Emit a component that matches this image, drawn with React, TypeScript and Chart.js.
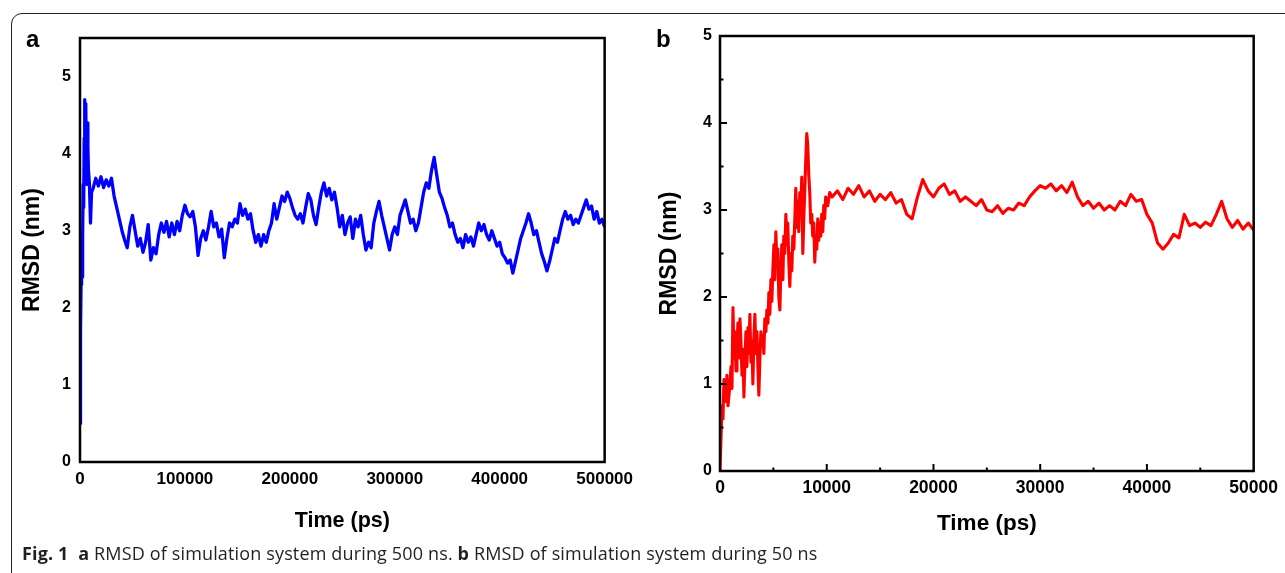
import React, { useEffect, useRef } from "react";
import { Chart, registerables } from "chart.js";
Chart.register(...registerables);

// ---------- Panel a: RMSD during 500 ns ----------
const aTime = [
  0, 500, 1000, 1500, 2000, 2500, 3000, 3500, 4000, 4500, 5000, 5500, 6000, 6500, 7000, 7500, 8000, 9000, 10000, 11000,
  12500, 15000, 17500, 20000, 22500, 25000, 27500, 30000, 32500, 35000,
  37500, 40000, 42500, 45000, 47500, 50000, 52500, 55000, 57500, 60000,
  62500, 65000, 67500, 70000, 72500, 75000, 77500, 80000, 82500, 85000,
  87500, 90000, 92500, 95000, 97500, 100000, 102500, 105000, 107500, 110000,
  112500, 115000, 117500, 120000, 122500, 125000, 127500, 130000, 132500, 135000,
  137500, 140000, 142500, 145000, 147500, 150000, 152500, 155000, 157500, 160000,
  162500, 165000, 167500, 170000, 172500, 175000, 177500, 180000, 182500, 185000,
  187500, 190000, 192500, 195000, 197500, 200000, 202500, 205000, 207500, 210000,
  212500, 215000, 217500, 220000, 222500, 225000, 227500, 230000, 232500, 235000,
  237500, 240000, 242500, 245000, 247500, 250000, 252500, 255000, 257500, 260000,
  262500, 265000, 267500, 270000, 272500, 275000, 277500, 280000, 282500, 285000,
  287500, 290000, 292500, 295000, 297500, 300000, 302500, 305000, 307500, 310000,
  312500, 315000, 317500, 320000, 322500, 325000, 327500, 330000, 332500, 335000,
  337500, 340000, 342500, 345000, 347500, 350000, 352500, 355000, 357500, 360000,
  362500, 365000, 367500, 370000, 372500, 375000, 377500, 380000, 382500, 385000,
  387500, 390000, 392500, 395000, 397500, 400000, 402500, 405000, 407500, 410000,
  412500, 415000, 417500, 420000, 422500, 425000, 427500, 430000, 432500, 435000,
  437500, 440000, 442500, 445000, 447500, 450000, 452500, 455000, 457500, 460000,
  462500, 465000, 467500, 470000, 472500, 475000, 477500, 480000, 482500, 485000,
  487500, 490000, 492500, 495000, 497500, 500000
];
const aRmsd = [
  0.5, 1.7, 2.3, 2.8, 2.4, 2.9, 3.6, 3.3, 4.2, 4.7, 4.3, 4.65, 3.9, 3.6, 4.4, 4.1, 3.8, 3.6, 3.1, 3.5,
  3.55, 3.68, 3.58, 3.7, 3.56, 3.66, 3.58, 3.68, 3.45, 3.3,
  3.15, 3.0, 2.88, 2.78, 3.05, 3.2, 3.0, 2.8, 2.9, 2.72,
  2.85, 3.08, 2.62, 2.78, 2.7, 2.95, 3.1, 2.98, 3.12, 2.92,
  3.1, 2.95, 3.12, 3.0, 3.2, 3.33, 3.22, 3.18, 3.25, 3.05,
  2.68, 2.9, 3.0, 2.88, 3.05, 3.25, 3.05, 3.1, 2.92, 3.02,
  2.65, 2.9, 3.1, 3.05, 3.15, 3.1, 3.35, 3.2, 3.28, 3.15,
  3.22, 3.0, 2.85, 2.95, 2.8, 2.95, 2.85, 3.0, 3.1, 3.35,
  3.15, 3.3, 3.45, 3.38, 3.5, 3.42, 3.3, 3.2, 3.15, 3.22,
  3.1, 3.3, 3.48, 3.4, 3.2, 3.08, 3.3, 3.5, 3.62, 3.45,
  3.55, 3.4, 3.5, 3.3, 3.05, 3.2, 2.95, 3.1, 3.18, 2.9,
  3.15, 3.05, 3.2, 2.95, 2.75, 2.85, 2.78, 3.1, 3.25, 3.38,
  3.2, 3.05, 2.9, 2.75, 2.95, 3.05, 2.95, 3.2, 3.3, 3.4,
  3.25, 3.1, 3.15, 3.0, 3.1, 3.3, 3.5, 3.62, 3.55, 3.78,
  3.95, 3.72, 3.5, 3.42, 3.3, 3.2, 3.05, 3.1, 2.95, 2.85,
  2.9, 2.78, 2.95, 2.85, 2.92, 2.8, 2.95, 3.1, 3.0, 3.08,
  2.95, 2.88, 3.0, 2.9, 2.8, 2.85, 2.7, 2.65, 2.58, 2.62,
  2.45, 2.6, 2.75, 2.9, 3.0, 3.1, 3.22, 3.1, 2.95, 3.0,
  2.85, 2.7, 2.6, 2.48, 2.6, 2.75, 2.9, 2.85, 3.0, 3.15,
  3.25, 3.15, 3.2, 3.08, 3.15, 3.1, 3.2, 3.3, 3.4, 3.28,
  3.32, 3.15, 3.25, 3.1, 3.15, 3.05
];

// ---------- Panel b: RMSD during 50 ns ----------
const bTime = [
  0, 100, 190, 280, 370, 560, 650, 750, 935, 1030, 1120, 1215, 1310, 1400, 1500, 1590, 1680, 1780, 1870, 1960,
  2060, 2150, 2240, 2340, 2430, 2520, 2620, 2710, 2800, 2900, 2990, 3080, 3180, 3270, 3360, 3460, 3550, 3640, 3740, 3830,
  3920, 4020, 4110, 4200, 4300, 4390, 4490, 4580, 4670, 4770, 4860, 4950, 5050, 5140, 5230, 5330, 5420, 5510, 5610, 5700,
  5790, 5890, 5980, 6070, 6170, 6260, 6350, 6450, 6540, 6640, 6730, 6820, 6920, 7010, 7100, 7200, 7290, 7380, 7480, 7570,
  7660, 7760, 7850, 7940, 8040, 8130, 8220, 8320, 8410, 8500, 8600, 8690, 8790, 8880, 8970, 9070, 9160, 9250, 9350, 9440,
  9530, 9630, 9720, 9810, 9900, 10090, 10280,
  10500, 11000, 11500, 12000, 12500, 13000, 13500, 14000, 14500, 15000,
  15500, 16000, 16500, 17000, 17500, 18000, 18500, 19000, 19500, 20000,
  20500, 21000, 21500, 22000, 22500, 23000, 23500, 24000, 24500, 25000,
  25500, 26000, 26500, 27000, 27500, 28000, 28500, 29000, 29500, 30000,
  30500, 31000, 31500, 32000, 32500, 33000, 33500, 34000, 34500, 35000,
  35500, 36000, 36500, 37000, 37500, 38000, 38500, 39000, 39500, 40000,
  40500, 41000, 41500, 42000, 42500, 43000, 43500, 44000, 44500, 45000,
  45500, 46000, 46500, 47000, 47500, 48000, 48500, 49000, 49500, 50000
];
const bRmsd = [
  0.0, 0.4, 0.75, 0.6, 1.05, 0.8, 1.1, 0.75, 1.0, 1.2, 0.95, 1.88, 1.3, 1.6, 1.15, 1.45, 1.7, 1.3, 1.75, 1.5,
  1.1, 1.4, 0.85, 1.3, 1.6, 1.2, 1.65, 1.35, 1.8, 1.25, 1.5, 1.0, 1.55, 1.8, 1.35, 1.6, 1.2, 0.87, 1.3, 1.6,
  1.45, 1.55, 1.35, 1.75, 1.6, 1.85, 1.7, 2.05, 1.8, 2.2, 1.95, 2.3, 2.6, 2.2, 2.75, 2.4, 2.55, 2.0, 1.85, 2.3,
  2.6, 2.2, 2.7, 2.5, 2.95, 2.6, 2.85, 2.4, 2.12, 2.5, 2.3, 2.7, 2.55, 2.9, 3.25, 2.8, 3.1, 2.75, 3.2, 3.0,
  3.38, 2.5, 2.9, 3.2, 3.6, 3.88, 3.75, 3.4, 3.2, 2.85, 2.95, 2.7, 2.85, 2.4, 2.7, 2.55, 2.9, 2.65, 2.85, 2.7,
  2.95, 2.75, 3.05, 2.9, 3.15, 3.05, 3.2,
  3.15, 3.22, 3.12, 3.25, 3.18, 3.28, 3.15, 3.22, 3.1, 3.18,
  3.12, 3.2, 3.08, 3.12, 2.95, 2.9, 3.15, 3.35, 3.22, 3.15,
  3.25, 3.3, 3.18, 3.22, 3.1, 3.15, 3.1, 3.05, 3.12, 3.0,
  2.98, 3.05, 2.96, 3.02, 3.0, 3.08, 3.05, 3.15, 3.22, 3.28,
  3.25, 3.3, 3.22, 3.28, 3.2, 3.32, 3.15, 3.05, 3.1, 3.02,
  3.08, 3.0, 3.05, 3.0, 3.1, 3.05, 3.18, 3.1, 3.12, 2.95,
  2.85, 2.62, 2.55, 2.62, 2.72, 2.68, 2.95, 2.82, 2.85, 2.8,
  2.86, 2.82, 2.95, 3.1, 2.9, 2.8, 2.88, 2.78, 2.85, 2.77
];

const AXIS_FONT = "'Liberation Sans', Arial, sans-serif";

const framePlugin = {
  id: "frame",
  afterDatasetsDraw(chart: any, _args: any, opts: any) {
    const { ctx, chartArea: a } = chart;
    ctx.save();
    ctx.strokeStyle = "#000";
    ctx.lineWidth = opts.lineWidth || 2.5;
    ctx.strokeRect(a.left, a.top, a.right - a.left, a.bottom - a.top);
    if (opts.inwardTicks) {
      ctx.lineWidth = 2;
      const xs = chart.scales.x;
      xs.ticks.forEach((t: any) => {
        const px = xs.getPixelForValue(t.value);
        if (px <= a.left + 1 || px >= a.right - 1) return;
        const len = t.value % opts.xMajor === 0 ? 7 : 3.5;
        ctx.beginPath();
        ctx.moveTo(px, a.bottom);
        ctx.lineTo(px, a.bottom - len);
        ctx.stroke();
      });
      const ys = chart.scales.y;
      ys.ticks.forEach((t: any) => {
        const py = ys.getPixelForValue(t.value);
        if (py <= a.top + 1 || py >= a.bottom - 1) return;
        const len = Number.isInteger(t.value) ? 7 : 3.5;
        ctx.beginPath();
        ctx.moveTo(a.left, py);
        ctx.lineTo(a.left + len, py);
        ctx.stroke();
      });
    }
    ctx.restore();
  },
};

function makeConfig(opts: {
  times: number[];
  values: number[];
  color: string;
  lineWidth: number;
  xMax: number;
  xStep: number;
  xMajor: number;
  yMax: number;
  yStep: number;
  padRight: number;
  padTop: number;
  xHeight: number;
  xTitleBottom: number;
  yTitleTop: number;
  yTickPad: number;
  yTickSize: number;
  xTickSize: number;
  xTitleSize: number;
  yTitleSize: number;
  inwardTicks: boolean;
}) {
  const data = opts.times.map((t, i) => ({ x: t, y: opts.values[i] }));
  return {
    type: "line" as const,
    data: {
      datasets: [
        {
          data,
          borderColor: opts.color,
          borderWidth: opts.lineWidth,
          pointRadius: 0,
          tension: 0,
          fill: false,
          borderJoinStyle: "round" as const,
        },
      ],
    },
    options: {
      animation: false as const,
      responsive: false,
      maintainAspectRatio: false,
      events: [],
      layout: { padding: { left: 0, right: opts.padRight, top: opts.padTop, bottom: 0 } },
      plugins: {
        legend: { display: false },
        tooltip: { enabled: false },
        frame: { lineWidth: 2.5, inwardTicks: opts.inwardTicks, xMajor: opts.xMajor },
      },
      scales: {
        x: {
          type: "linear" as const,
          min: 0,
          max: opts.xMax,
          grid: { display: false, drawTicks: false },
          border: { display: false },
          ticks: {
            stepSize: opts.xStep,
            autoSkip: false,
            maxRotation: 0,
            includeBounds: false,
            padding: 7,
            color: "#000",
            font: { family: AXIS_FONT, size: opts.xTickSize, weight: "bold" as const },
            callback: (v: any) => (Number(v) % opts.xMajor === 0 ? String(v) : ""),
          },
          title: {
            display: true,
            text: "Time (ps)",
            color: "#000",
            font: { family: AXIS_FONT, size: opts.xTitleSize, weight: "bold" as const },
            padding: { top: 0, bottom: opts.xTitleBottom },
          },
          afterFit: (s: any) => {
            s.height = opts.xHeight;
          },
        },
        y: {
          type: "linear" as const,
          min: 0,
          max: opts.yMax,
          grid: { display: false, drawTicks: false },
          border: { display: false },
          ticks: {
            stepSize: opts.yStep,
            autoSkip: false,
            includeBounds: false,
            padding: opts.yTickPad,
            color: "#000",
            font: { family: AXIS_FONT, size: opts.yTickSize, weight: "bold" as const },
            callback: (v: any) => (Number.isInteger(Number(v)) ? String(v) : ""),
          },
          title: {
            display: true,
            text: "RMSD (nm)",
            color: "#000",
            font: { family: AXIS_FONT, size: opts.yTitleSize, weight: "bold" as const },
            padding: { top: opts.yTitleTop, bottom: 0 },
          },
          afterFit: (s: any) => {
            s.width = 80;
          },
        },
      },
    },
    plugins: [framePlugin],
  };
}

export default function App() {
  const refA = useRef<HTMLCanvasElement | null>(null);
  const refB = useRef<HTMLCanvasElement | null>(null);

  useEffect(() => {
    const chartA = new Chart(
      refA.current as HTMLCanvasElement,
      makeConfig({
        times: aTime,
        values: aRmsd,
        color: "#0000ff",
        lineWidth: 3.3,
        xMax: 500000,
        xStep: 100000,
        xMajor: 100000,
        yMax: 5.5,
        yStep: 1,
        padRight: 34,
        padTop: 38,
        xHeight: 111,
        xTitleBottom: 39,
        yTitleTop: 19,
        yTickPad: 9,
        yTickSize: 16,
        xTickSize: 17,
        xTitleSize: 21.5,
        yTitleSize: 23,
        inwardTicks: false,
      }) as any
    );
    const chartB = new Chart(
      refB.current as HTMLCanvasElement,
      makeConfig({
        times: bTime,
        values: bRmsd,
        color: "#ff0000",
        lineWidth: 3.1,
        xMax: 50000,
        xStep: 5000,
        xMajor: 10000,
        yMax: 5,
        yStep: 0.5,
        padRight: 30,
        padTop: 36,
        xHeight: 102,
        xTitleBottom: 36,
        yTitleTop: 16,
        yTickPad: 8,
        yTickSize: 16,
        xTickSize: 17.5,
        xTitleSize: 22.5,
        yTitleSize: 23,
        inwardTicks: true,
      }) as any
    );
    return () => {
      chartA.destroy();
      chartB.destroy();
    };
  }, []);

  return (
    <div style={{ position: "relative", width: 1285, height: 573, overflow: "hidden", background: "#fff" }}>
      <style>{`body{margin:0;}`}</style>
      <div
        style={{
          position: "absolute",
          left: 11,
          top: 13,
          width: 1400,
          height: 700,
          border: "1.5px solid #222",
          borderRadius: 11,
          boxSizing: "border-box",
        }}
      />
      <canvas ref={refA} width={640} height={573} style={{ position: "absolute", left: 0, top: 0 }} />
      <canvas ref={refB} width={645} height={573} style={{ position: "absolute", left: 640, top: 0 }} />
      <div
        style={{
          position: "absolute",
          left: 26,
          top: 25,
          font: `bold 24px ${AXIS_FONT}`,
          color: "#000",
        }}
      >
        a
      </div>
      <div
        style={{
          position: "absolute",
          left: 656,
          top: 25,
          font: `bold 24px ${AXIS_FONT}`,
          color: "#000",
        }}
      >
        b
      </div>
      <div
        style={{
          position: "absolute",
          left: 22,
          top: 540,
          fontFamily: "'Open Sans', 'Noto Sans', sans-serif",
          fontSize: 18,
          letterSpacing: "0.15px",
          lineHeight: "26px",
          color: "#231f20",
          whiteSpace: "nowrap",
        }}
      >
        <b>Fig. 1</b>&nbsp;&nbsp;<b>a</b> RMSD of simulation system during 500 ns. <b>b</b> RMSD of simulation system
        during 50 ns
      </div>
    </div>
  );
}
